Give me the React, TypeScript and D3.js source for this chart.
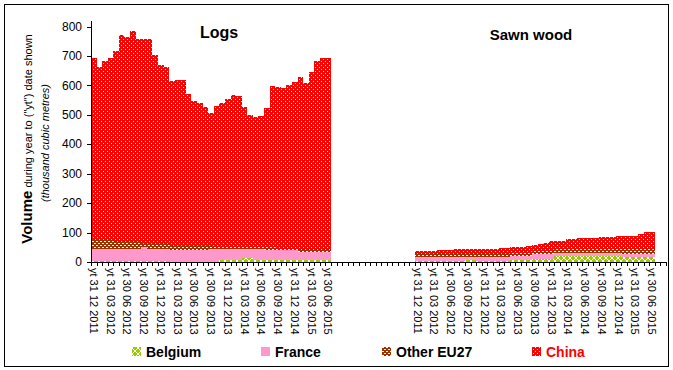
import * as d3 from "d3";

// quarter tick labels (same for both panels)
const tickLabels = [
  "yt 31 12 2011", "yt 31 03 2012", "yt 30 06 2012", "yt 30 09 2012",
  "yt 31 12 2012", "yt 31 03 2013", "yt 30 06 2013", "yt 30 09 2013",
  "yt 31 12 2013", "yt 31 03 2014", "yt 30 06 2014", "yt 30 09 2014",
  "yt 31 12 2014", "yt 31 03 2015", "yt 30 06 2015",
];

const seriesNames = ["Belgium", "France", "Other EU27", "China"];

// Logs, monthly yt values (thousand m3)
const logsBelgium = [3,3,3,3,3,3,3,3,3,3,3,3,3,3,0,0,0,0,0,0,0,0,0,6,6,6,6,12,12,6,6,6,6,6,6,6,6,6,6,6,6,6,6];
const logsFrance = [41,41,41,41,41,41,41,41,41,47,41,41,41,41,42,42,42,42,42,42,42,43,43,37,37,37,37,31,31,37,37,34,34,34,34,34,34,29,29,29,29,29,29];
const logsOther = [30,30,30,30,23,23,23,23,23,10,16,16,16,16,12,12,12,12,12,12,12,11,9,9,9,9,9,9,9,9,9,12,12,4,4,4,4,5,5,5,5,5,5];
const logsChina = [618,588,608,618,650,705,698,718,691,698,698,644,609,603,562,565,565,516,494,486,472,452,479,488,502,516,513,474,448,441,445,472,547,550,548,557,568,587,569,604,642,654,654];

// Sawn wood
const sawnBelgium = [3,3,3,3,3,3,3,3,3,6,6,3,3,3,3,5,5,7,7,7,7,10,10,10,10,20,20,20,20,20,20,20,20,20,20,20,20,16,16,16,16,16,16];
const sawnFrance = [13,13,13,13,13,13,13,13,13,10,10,13,13,13,13,11,11,13,13,13,13,18,18,18,18,12,12,12,12,12,12,12,12,12,12,12,12,11,11,11,11,11,11];
const sawnOther = [11,11,11,11,11,11,11,11,11,11,11,11,11,11,11,11,11,11,11,11,11,10,10,10,10,11,11,11,11,11,11,11,11,11,11,11,11,16,16,16,16,16,16];
const sawnChina = [9,9,10,12,13,13,14,16,16,16,16,16,16,17,17,19,20,20,21,21,22,20,23,28,33,29,30,34,36,37,39,40,40,41,42,43,44,44,45,46,52,60,60];

const SAWN_START = 58;
const SLOTS = 103;

// base colour + overlay pattern per series
const baseColor: Record<string, string> = {
  Belgium: "#99CC00",
  France: "#FF99CC",
  "Other EU27": "#993300",
  China: "#FF0000",
};
const overlay: Record<string, string | null> = {
  Belgium: "url(#ovBel)",
  France: null,
  "Other EU27": "url(#ovOth)",
  China: "url(#ovChn)",
};

const font = "Arial, 'Liberation Sans', sans-serif";

function rows(b: number[], f: number[], o: number[], c: number[], offset: number) {
  return b.map((_, i) => ({
    idx: i + offset,
    Belgium: b[i],
    France: f[i],
    "Other EU27": o[i],
    China: c[i],
  }));
}

export default function App() {
  const width = 673;
  const height = 370;

  const x = d3.scaleBand<number>().domain(d3.range(SLOTS)).range([91, 666]).padding(0);
  const y = d3.scaleLinear().domain([0, 800]).range([262, 26.5]);

  const stack = d3.stack<any>().keys(seriesNames);
  const data = [
    ...rows(logsBelgium, logsFrance, logsOther, logsChina, 0),
    ...rows(sawnBelgium, sawnFrance, sawnOther, sawnChina, SAWN_START),
  ];
  const stacked = stack(data);

  const px = (i: number) => Math.round(x(i) as number);

  const tickIdx = [
    ...tickLabels.map((_, k) => k * 3),
    ...tickLabels.map((_, k) => SAWN_START + k * 3),
  ];

  const legend = [
    { name: "Belgium", x: 132, color: "#000" },
    { name: "France", x: 261, color: "#000" },
    { name: "Other EU27", x: 382, color: "#000" },
    { name: "China", x: 532, color: "#FF0000" },
  ];

  return (
    <svg width={width} height={height} style={{ position: "absolute", left: 0, top: 0, background: "#fff" }} fontFamily={font}>
      <defs>
        <pattern id="ovChn" x="0" y="0" width="4" height="4" patternUnits="userSpaceOnUse">
          <rect x="1" y="1" width="1" height="1" fill="#FFFF00" />
          <rect x="3" y="3" width="1" height="1" fill="#FFFF00" />
        </pattern>
        <pattern id="ovOth" x="0" y="0" width="4" height="4" patternUnits="userSpaceOnUse">
          <rect x="0" y="1" width="2" height="1" fill="#FFFFFF" />
          <rect x="2" y="3" width="2" height="1" fill="#FFFFFF" />
        </pattern>
        <pattern id="ovBel" x="0" y="0" width="6" height="6" patternUnits="userSpaceOnUse">
          <rect x="0" y="0" width="1" height="1" fill="#FFFFFF" />
          <rect x="1" y="1" width="1" height="1" fill="#FFFFFF" />
          <rect x="2" y="2" width="1" height="1" fill="#FFFFFF" />
          <rect x="3" y="3" width="1" height="1" fill="#FFFFFF" />
          <rect x="4" y="4" width="1" height="1" fill="#FFFFFF" />
          <rect x="5" y="5" width="1" height="1" fill="#FFFFFF" />
          <rect x="5" y="0" width="1" height="1" fill="#FFFFFF" />
          <rect x="4" y="1" width="1" height="1" fill="#FFFFFF" />
          <rect x="3" y="2" width="1" height="1" fill="#FFFFFF" />
          <rect x="2" y="3" width="1" height="1" fill="#FFFFFF" />
          <rect x="1" y="4" width="1" height="1" fill="#FFFFFF" />
          <rect x="0" y="5" width="1" height="1" fill="#FFFFFF" />
        </pattern>
      </defs>

      <rect x={4.5} y={4.5} width={664} height={362} fill="none" stroke="#000" />

      {/* bars: solid fill, then the hatch overlay */}
      <g shapeRendering="crispEdges">
        {stacked.map((s) => (
          <g key={s.key}>
            {s.map((d: any) => {
              const i = d.data.idx;
              const y0 = Math.round(y(d[0]));
              const y1 = Math.round(y(d[1]));
              if (y0 - y1 <= 0) return null;
              const rx = px(i);
              const rw = px(i + 1) - px(i);
              return (
                <g key={i}>
                  <rect x={rx} width={rw} y={y1} height={y0 - y1} fill={baseColor[s.key]} />
                  {overlay[s.key] && (
                    <rect x={rx} width={rw} y={y1} height={y0 - y1} fill={overlay[s.key] as string} />
                  )}
                </g>
              );
            })}
          </g>
        ))}
      </g>

      {/* y axis */}
      <g shapeRendering="crispEdges" stroke="#000">
        <line x1={91.5} x2={91.5} y1={21} y2={262} />
        {y.ticks(8).map((t) => (
          <line key={t} x1={87} x2={91} y1={Math.round(y(t)) + 0.5} y2={Math.round(y(t)) + 0.5} />
        ))}
      </g>
      {y.ticks(8).map((t) => (
        <text key={t} x={82} y={y(t)} dy="0.35em" textAnchor="end" fontSize={12}>
          {t}
        </text>
      ))}

      {/* x axis */}
      <g shapeRendering="crispEdges" stroke="#000">
        <line x1={91} x2={666} y1={262.5} y2={262.5} />
        {d3.range(SLOTS + 1).map((i) => {
          const xx = i < SLOTS ? px(i) : 666;
          return <line key={i} x1={xx + 0.5} x2={xx + 0.5} y1={262} y2={266} />;
        })}
      </g>
      {tickIdx.map((i, k) => (
        <text
          key={k}
          transform={`translate(${(x(i) as number) + x.bandwidth() / 2},268) rotate(90)`}
          dy="0.35em"
          fontSize={11}
        >
          {tickLabels[k % tickLabels.length]}
        </text>
      ))}

      {/* panel titles */}
      <text x={219} y={38} textAnchor="middle" fontSize={16} fontWeight="bold">Logs</text>
      <text x={531} y={40} textAnchor="middle" fontSize={15} fontWeight="bold">Sawn wood</text>

      {/* y axis title */}
      <text transform="translate(32,139) rotate(-90)" textAnchor="middle">
        <tspan fontSize={15} fontWeight="bold">Volume</tspan>
        <tspan fontSize={11}> during year to ("yt") date shown</tspan>
      </text>
      <text transform="translate(49,143) rotate(-90)" textAnchor="middle" fontSize={11} fontStyle="italic">
        (thousand cubic metres)
      </text>

      {/* legend */}
      {legend.map((l) => (
        <g key={l.name} shapeRendering="crispEdges">
          <rect x={l.x} y={347} width={9} height={9} fill={baseColor[l.name]} />
          {overlay[l.name] && <rect x={l.x} y={347} width={9} height={9} fill={overlay[l.name] as string} />}
          <text x={l.x + 14} y={356.5} fontSize={14} fontWeight="bold" fill={l.color}>
            {l.name}
          </text>
        </g>
      ))}
    </svg>
  );
}
